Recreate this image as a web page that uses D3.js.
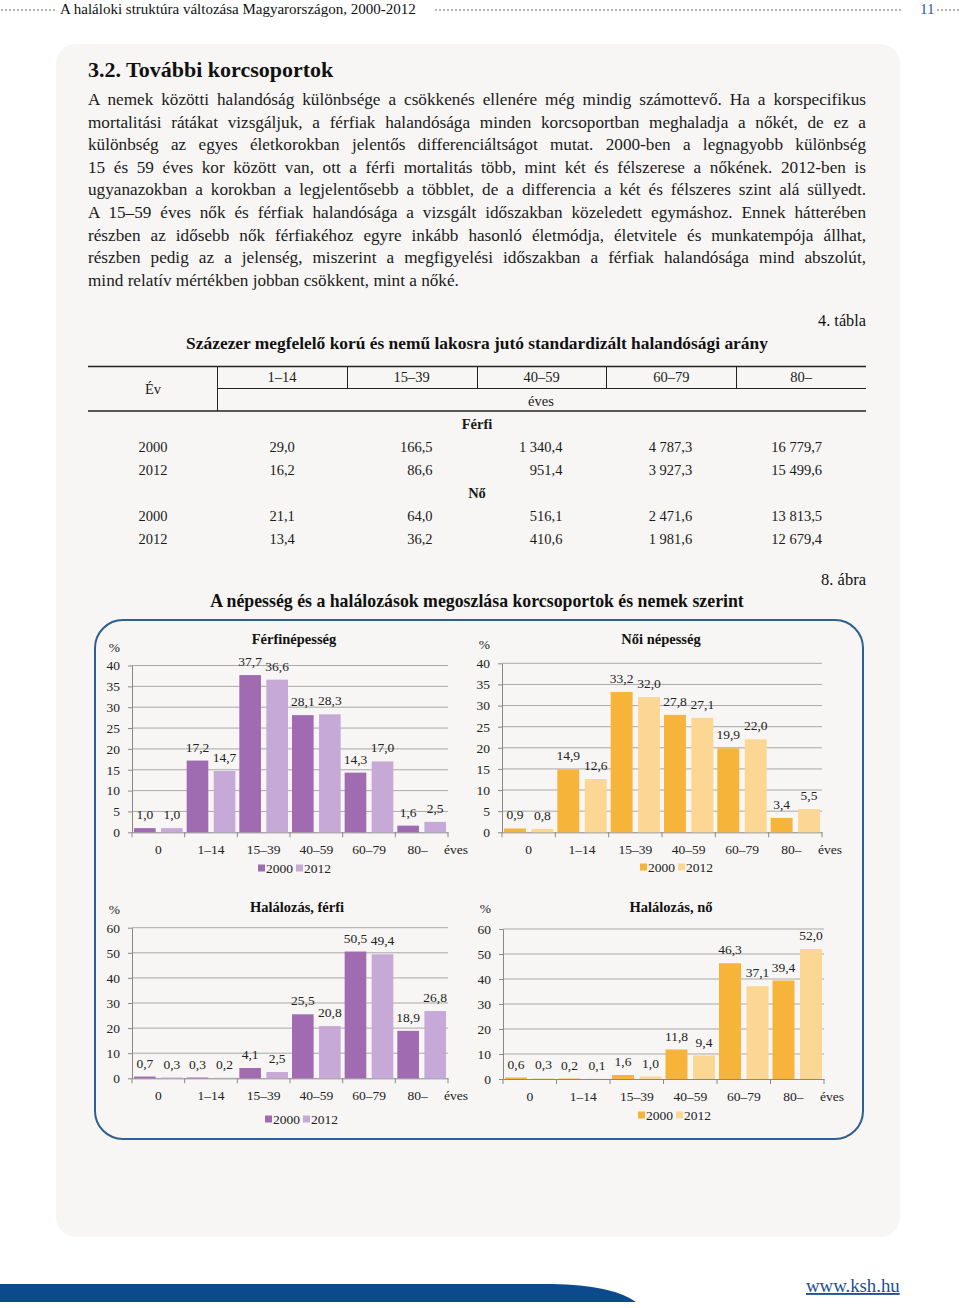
<!DOCTYPE html>
<html><head><meta charset="utf-8">
<script src="https://cdn.jsdelivr.net/npm/d3@7"></script>
<style>
html,body{margin:0;padding:0;background:#fff;}
svg{display:block;font-family:"Liberation Serif","Times New Roman",serif;}
</style></head><body>
<svg id="page" width="960" height="1308"></svg>
<script>
// ---------- DATA ----------
const headerTitle = "A haláloki struktúra változása Magyarországon, 2000-2012";
const pageNumber = "11";
const sectionTitle = "3.2. További korcsoportok";
const paragraphLines = [
  "A nemek közötti halandóság különbsége a csökkenés ellenére még mindig számottevő. Ha a korspecifikus",
  "mortalitási rátákat vizsgáljuk, a férfiak halandósága minden korcsoportban meghaladja a nőkét, de ez a",
  "különbség az egyes életkorokban jelentős differenciáltságot mutat. 2000-ben a legnagyobb különbség",
  "15 és 59 éves kor között van, ott a férfi mortalitás több, mint két és félszerese a nőkének. 2012-ben is",
  "ugyanazokban a korokban a legjelentősebb a többlet, de a differencia a két és félszeres szint alá süllyedt.",
  "A 15–59 éves nők és férfiak halandósága a vizsgált időszakban közeledett egymáshoz. Ennek hátterében",
  "részben az idősebb nők férfiakéhoz egyre inkább hasonló életmódja, életvitele és munkatempója állhat,",
  "részben pedig az a jelenség, miszerint a megfigyelési időszakban a férfiak halandósága mind abszolút,",
  "mind relatív mértékben jobban csökkent, mint a nőké."
];
const tableLabel = "4. tábla";
const tableTitle = "Százezer megfelelő korú és nemű lakosra jutó standardizált halandósági arány";
const tableAgeGroups = ["1–14","15–39","40–59","60–79","80–"];
const tableYears = ["2000","2012"];
const rateMale2000 = [29.0, 166.5, 1340.4, 4787.3, 16779.7];
const rateMale2012 = [16.2, 86.6, 951.4, 3927.3, 15499.6];
const rateFemale2000 = [21.1, 64.0, 516.1, 2471.6, 13813.5];
const rateFemale2012 = [13.4, 36.2, 410.6, 1981.6, 12679.4];

const figureLabel = "8. ábra";
const figureTitle = "A népesség és a halálozások megoszlása korcsoportok és nemek szerint";
const ageGroups = ["0","1–14","15–39","40–59","60–79","80–"];
const seriesYears = ["2000","2012"];
const popMale2000 = [1.0, 17.2, 37.7, 28.1, 14.3, 1.6];
const popMale2012 = [1.0, 14.7, 36.6, 28.3, 17.0, 2.5];
const popFemale2000 = [0.9, 14.9, 33.2, 27.8, 19.9, 3.4];
const popFemale2012 = [0.8, 12.6, 32.0, 27.1, 22.0, 5.5];
const deathMale2000 = [0.7, 0.3, 4.1, 25.5, 50.5, 18.9];
const deathMale2012 = [0.3, 0.2, 2.5, 20.8, 49.4, 26.8];
const deathFemale2000 = [0.6, 0.2, 1.6, 11.8, 46.3, 39.4];
const deathFemale2012 = [0.3, 0.1, 1.0, 9.4, 37.1, 52.0];
const popTicks = [0, 5, 10, 15, 20, 25, 30, 35, 40];
const deathTicks = [0, 10, 20, 30, 40, 50, 60];
const footerLink = "www.ksh.hu";

// ---------- DRAW ----------
const FONT = '"Liberation Serif","Times New Roman",serif';
const svg = d3.select("#page");
const hu = d3.formatLocale({decimal: ",", thousands: " ", grouping: [3], currency: ["", " Ft"]});
const fmtRate = hu.format(",.1f");
const fmtVal = hu.format(".1f");

// background box
svg.append("rect").attr("x", 56).attr("y", 44).attr("width", 844).attr("height", 1193)
  .attr("rx", 20).attr("fill", "#f7f6f4");

// header
function dots(x1, x2, y) {
  svg.append("line").attr("x1", x1).attr("x2", x2).attr("y1", y).attr("y2", y)
    .attr("stroke", "#9a9a9a").attr("stroke-width", 2).attr("stroke-linecap", "round")
    .attr("stroke-dasharray", "0,4");
}
dots(2, 55, 10);
dots(436, 902, 10);
dots(938, 960, 10);
svg.append("text").attr("x", 60).attr("y", 14).attr("font-size", 15).attr("fill", "#111").text(headerTitle);
svg.append("text").attr("x", 920).attr("y", 14).attr("font-size", 15).attr("fill", "#2a5ba8").text(pageNumber);

// section title
svg.append("text").attr("x", 88).attr("y", 77).attr("font-size", 22).attr("font-weight", "bold")
  .attr("fill", "#111").text(sectionTitle);

// paragraph, justified
const parLeft = 88, parRight = 866;
paragraphLines.forEach((line, i) => {
  const t = svg.append("text").attr("x", parLeft).attr("y", 105 + i * 22.6)
    .attr("font-size", 17.2).attr("fill", "#1a1a1a").text(line);
  if (i < paragraphLines.length - 1) {
    const w = t.node().getComputedTextLength();
    const spaces = (line.match(/ /g) || []).length;
    if (spaces > 0) t.attr("word-spacing", (parRight - parLeft - w) / spaces);
  }
});

// table
svg.append("text").attr("x", 866).attr("y", 326).attr("text-anchor", "end").attr("font-size", 16.3)
  .attr("fill", "#111").text(tableLabel);
svg.append("text").attr("x", 477).attr("y", 349).attr("text-anchor", "middle").attr("font-size", 17.4)
  .attr("font-weight", "bold").attr("fill", "#111").text(tableTitle);

const tx = d3.scaleBand().domain(tableAgeGroups).range([217, 866]);
const tbl = svg.append("g").attr("fill", "#1a1a1a").attr("font-size", 14.5);
tbl.append("line").attr("x1", 88).attr("x2", 866).attr("y1", 366.5).attr("y2", 366.5).attr("stroke", "#222").attr("stroke-width", 1.5);
tbl.append("line").attr("x1", 217).attr("x2", 866).attr("y1", 388.5).attr("y2", 388.5).attr("stroke", "#222").attr("stroke-width", 1);
tbl.append("line").attr("x1", 88).attr("x2", 866).attr("y1", 411).attr("y2", 411).attr("stroke", "#222").attr("stroke-width", 1.5);
tbl.append("line").attr("x1", 217.5).attr("x2", 217.5).attr("y1", 366).attr("y2", 411).attr("stroke", "#222");
tbl.selectAll("line.sep").data(tableAgeGroups.slice(1)).join("line")
  .attr("x1", d => Math.round(tx(d)) + 0.5).attr("x2", d => Math.round(tx(d)) + 0.5)
  .attr("y1", 366).attr("y2", 388.5).attr("stroke", "#222");
tbl.selectAll("text.h").data(tableAgeGroups).join("text")
  .attr("x", d => tx(d) + tx.bandwidth() / 2).attr("y", 382).attr("text-anchor", "middle").text(d => d);
tbl.append("text").attr("x", 153).attr("y", 394).attr("text-anchor", "middle").text("Év");
tbl.append("text").attr("x", 541).attr("y", 406).attr("text-anchor", "middle").text("éves");

function tableBlock(label, labelY, rows, rowY) {
  tbl.append("text").attr("x", 477).attr("y", labelY).attr("text-anchor", "middle")
    .attr("font-weight", "bold").text(label);
  rows.forEach((vals, r) => {
    tbl.append("text").attr("x", 153).attr("y", rowY + r * 23).attr("text-anchor", "middle").text(tableYears[r]);
    tbl.selectAll(null).data(vals).join("text")
      .attr("x", (d, i) => tx(tableAgeGroups[i]) + tx.bandwidth() - 44 - (i === 0 ? 8 : 0))
      .attr("y", rowY + r * 23).attr("text-anchor", "end").text(d => fmtRate(d));
  });
}
tableBlock("Férfi", 429, [rateMale2000, rateMale2012], 452);
tableBlock("Nő", 498, [rateFemale2000, rateFemale2012], 521);

// figure
svg.append("text").attr("x", 866).attr("y", 585).attr("text-anchor", "end").attr("font-size", 16.5)
  .attr("fill", "#111").text(figureLabel);
svg.append("text").attr("x", 477).attr("y", 607).attr("text-anchor", "middle").attr("font-size", 17.8)
  .attr("font-weight", "bold").attr("fill", "#111").text(figureTitle);
svg.append("rect").attr("x", 95).attr("y", 620).attr("width", 768).attr("height", 519).attr("rx", 28)
  .attr("fill", "none").attr("stroke", "#2e5f8f").attr("stroke-width", 2);

const purple = ["#a06bb0", "#c7a9d7"];
const orange = ["#f6b43a", "#fcd693"];
const FS = 13.5;

function barChart(o) {
  const g = svg.append("g").attr("font-size", FS).attr("fill", "#222");
  const x0 = d3.scaleBand().domain(ageGroups).range([o.left, o.right]);
  const x1 = d3.scaleBand().domain(seriesYears).range([2, x0.bandwidth() - 2]).paddingInner(0.2);
  const y = d3.scaleLinear().domain([0, o.ticks[o.ticks.length - 1]]).range([o.bottom, o.top]);
  // grid
  g.selectAll("line.grid").data(o.ticks.filter(t => t > 0)).join("line")
    .attr("x1", o.left).attr("x2", o.right).attr("y1", d => y(d)).attr("y2", d => y(d))
    .attr("stroke", "#a9a9a9").attr("stroke-width", 1);
  // y axis
  const ya = g.append("g").attr("transform", `translate(${o.left},0)`)
    .call(d3.axisLeft(y).tickValues(o.ticks).tickSize(4).tickSizeOuter(0).tickPadding(8).tickFormat(d3.format("d")));
  ya.select(".domain").attr("stroke", "#888");
  ya.selectAll(".tick line").attr("stroke", "#888");
  ya.selectAll(".tick text").attr("font-family", FONT).attr("font-size", FS).attr("fill", "#222");
  // x axis
  const xa = g.append("g").attr("transform", `translate(0,${o.bottom})`)
    .call(d3.axisBottom(x0).tickSize(0).tickSizeOuter(0).tickPadding(12));
  xa.select(".domain").attr("stroke", "#888");
  xa.selectAll(".tick text").attr("font-family", FONT).attr("font-size", FS).attr("fill", "#222")
    .attr("dx", d => d === "80–" ? -4 : 0);
  g.selectAll("line.xt").data(ageGroups.map(d => x0(d)).concat([o.right])).join("line")
    .attr("x1", d => d).attr("x2", d => d).attr("y1", o.bottom).attr("y2", o.bottom + 5).attr("stroke", "#888");
  g.append("text").attr("x", o.right - 4).attr("y", o.bottom + 22).text("éves");
  // bars
  [o.s2000, o.s2012].forEach((vals, si) => {
    const yr = seriesYears[si];
    g.selectAll(null).data(vals).join("rect")
      .attr("x", (d, i) => x0(ageGroups[i]) + x1(yr)).attr("width", x1.bandwidth())
      .attr("y", d => y(d)).attr("height", d => o.bottom - y(d)).attr("fill", o.colors[si]);
    g.selectAll(null).data(vals).join("text")
      .attr("x", (d, i) => x0(ageGroups[i]) + x1(yr) + x1.bandwidth() / 2)
      .attr("y", d => y(d) - 9).attr("text-anchor", "middle").text(d => fmtVal(d));
  });
  // title and unit
  g.append("text").attr("x", o.titleX).attr("y", o.titleY).attr("text-anchor", "middle")
    .attr("font-size", 14.5).attr("font-weight", "bold").attr("fill", "#111").text(o.title);
  g.append("text").attr("x", o.left - 12).attr("y", o.unitY).attr("text-anchor", "end").text("%");
  // legend
  const lg = g.append("g").attr("transform", `translate(${o.legendX},${o.legendY})`);
  seriesYears.forEach((yr, i) => {
    lg.append("rect").attr("x", i * 38).attr("y", -3.5).attr("width", 7).attr("height", 7).attr("fill", o.colors[i]);
    lg.append("text").attr("x", i * 38 + 8).attr("y", 5).text(yr);
  });
}

barChart({left: 132, right: 448, top: 665.5, bottom: 832.3, ticks: popTicks, s2000: popMale2000, s2012: popMale2012,
  colors: purple, title: "Férfinépesség", titleX: 294, titleY: 644, unitY: 652, legendX: 258, legendY: 868});
barChart({left: 502, right: 822, top: 663.3, bottom: 832.3, ticks: popTicks, s2000: popFemale2000, s2012: popFemale2012,
  colors: orange, title: "Női népesség", titleX: 661, titleY: 644, unitY: 649, legendX: 640, legendY: 867});
barChart({left: 132, right: 448, top: 927.7, bottom: 1078.3, ticks: deathTicks, s2000: deathMale2000, s2012: deathMale2012,
  colors: purple, title: "Halálozás, férfi", titleX: 297, titleY: 912, unitY: 914, legendX: 265, legendY: 1119});
barChart({left: 503, right: 824, top: 929, bottom: 1079, ticks: deathTicks, s2000: deathFemale2000, s2012: deathFemale2012,
  colors: orange, title: "Halálozás, nő", titleX: 671, titleY: 912, unitY: 913, legendX: 638, legendY: 1115});

// footer
svg.append("path").attr("d", "M0,1284 H552 Q612,1285 636,1302 H0 Z").attr("fill", "#0d4a8b");
svg.append("text").attr("x", 806).attr("y", 1292).attr("font-size", 18.8).attr("fill", "#1d4f94")
  .attr("text-decoration", "underline").text(footerLink);
</script>
</body></html>
